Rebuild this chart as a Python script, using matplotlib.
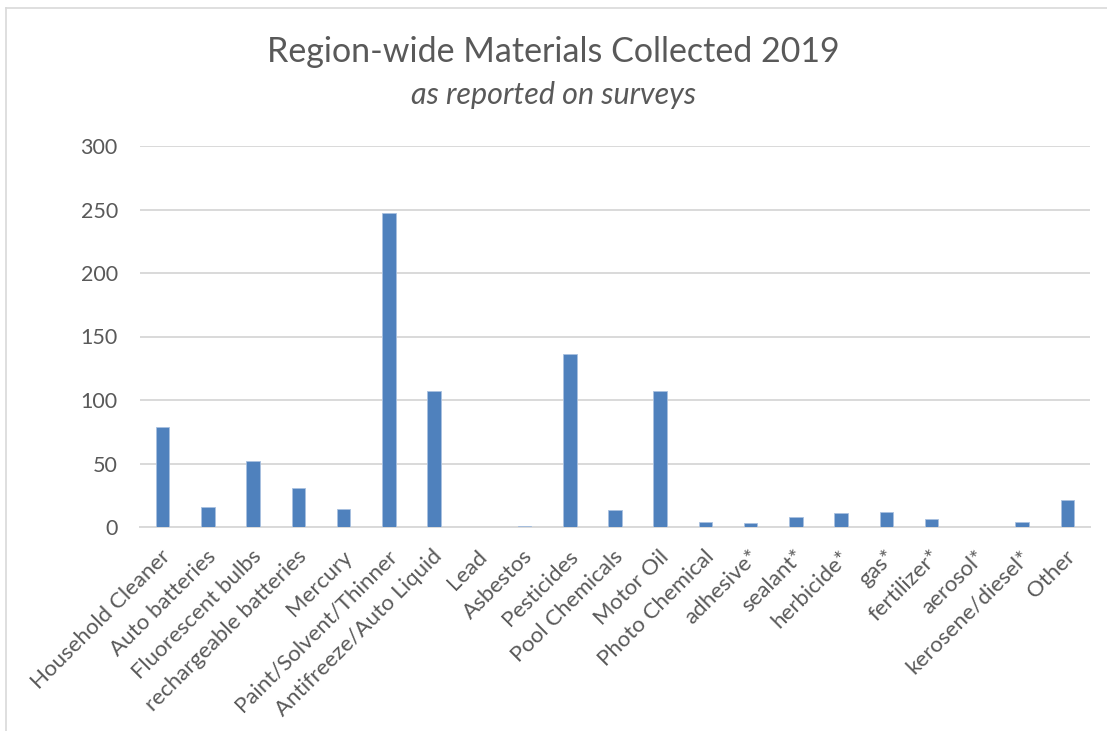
import matplotlib
matplotlib.use("Agg")
import matplotlib.pyplot as plt
from matplotlib.lines import Line2D
from matplotlib.transforms import ScaledTranslation

categories = ["Household Cleaner", "Auto batteries", "Fluorescent bulbs",
              "rechargeable batteries", "Mercury", "Paint/Solvent/Thinner",
              "Antifreeze/Auto Liquid", "Lead", "Asbestos", "Pesticides",
              "Pool Chemicals", "Motor Oil", "Photo Chemical", "adhesive*",
              "sealant*", "herbicide*", "gas*", "fertilizer*", "aerosol*",
              "kerosene/diesel*", "Other"]
values = [79, 16, 52, 31, 14, 247, 107, 0, 1, 136, 13, 107, 4, 3, 8, 11, 12, 6, 0, 4, 21]
yticks = [0, 50, 100, 150, 200, 250, 300]

title = "Region-wide Materials Collected 2019"
subtitle = "as reported on surveys"

plt.rcParams['font.family'] = ['Lato', 'DejaVu Sans']
txt = "#595959"

W, H = 1107, 731
fig = plt.figure(figsize=(W / 100, H / 100), dpi=100)
ax = fig.add_axes([140 / W, (H - 527) / H, (1090 - 140) / W, (527 - 146) / H])

x = list(range(len(categories)))
ax.bar(x, values, width=0.3, color="#4f81bd", edgecolor="#a9c1e0", linewidth=0.6, zorder=3)
ax.set_xlim(-0.5, len(categories) - 0.5)
ax.set_ylim(0, 300)
ax.set_yticks(yticks)
ax.set_yticklabels([str(v) for v in yticks], fontsize=15.5, color=txt)
ax.yaxis.grid(True, color="#d9d9d9", linewidth=1.4, zorder=0)
ax.set_axisbelow(True)
for s in ["top", "right", "left"]:
    ax.spines[s].set_visible(False)
ax.spines["bottom"].set_color("#d9d9d9")
ax.spines["bottom"].set_linewidth(1.4)
ax.tick_params(axis="both", length=0)
ax.tick_params(axis="y", pad=16)
ax.set_xticks(x)
ax.set_xticklabels(categories, rotation=45, ha="right", va="center",
                   rotation_mode="anchor", fontsize=16, color=txt)
ax.tick_params(axis="x", pad=19)
shift = ScaledTranslation(5 / 100, 0, fig.dpi_scale_trans)
for lbl in ax.get_xticklabels():
    lbl.set_transform(lbl.get_transform() + shift)

fig.text(0.5, 1 - 52 / H, title, ha="center", va="center", fontsize=24.5,
         color=txt)
fig.text(0.5, 1 - 95 / H, subtitle, ha="center", va="center", fontsize=22,
         style="italic", color=txt)

# chart border (top & left visible)
fig.add_artist(Line2D([5.5 / W, 1.0], [1 - 8 / H, 1 - 8 / H], transform=fig.transFigure,
                      color="#d9d9d9", linewidth=1.2))
fig.add_artist(Line2D([5.5 / W, 5.5 / W], [0, 1 - 8 / H], transform=fig.transFigure,
                      color="#d9d9d9", linewidth=1.2))

fig.savefig("out.png", dpi=100)
